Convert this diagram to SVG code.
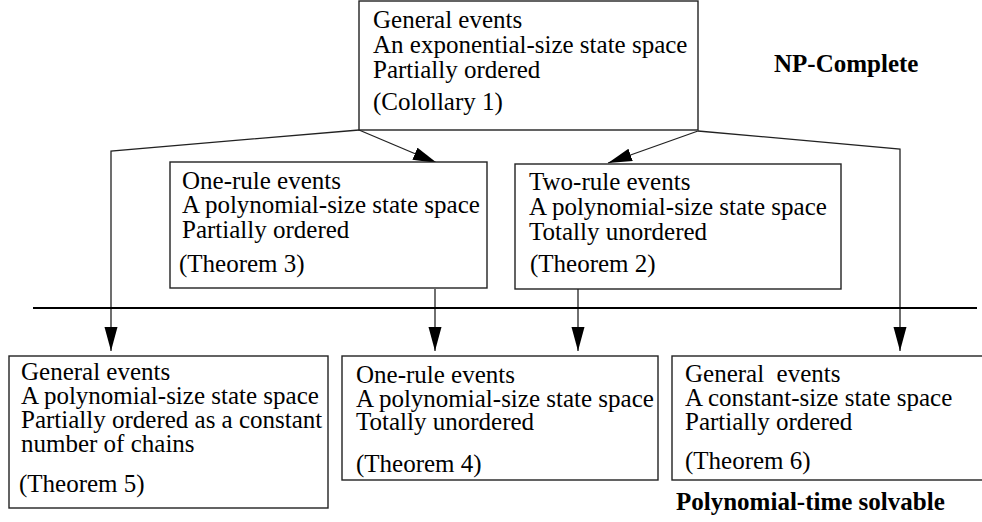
<svg xmlns="http://www.w3.org/2000/svg" width="982" height="522" viewBox="0 0 982 522">
<style>
  .box { fill: #fff; stroke: #222; stroke-width: 1.4; }
  .t { font-family: "Liberation Serif", "Times New Roman", serif; font-size: 25px; fill: #000; }
  .b { font-family: "Liberation Serif", "Times New Roman", serif; font-size: 25px; font-weight: bold; fill: #000; }
  .conn { fill: none; stroke: #222; stroke-width: 1.3; }
  .rule { fill: none; stroke: #000; stroke-width: 2; }
</style>
<defs>
  <marker id="arr" markerUnits="userSpaceOnUse" markerWidth="26" markerHeight="14" refX="24" refY="6.5" orient="auto">
    <path d="M0,0 L24,6.5 L0,13 z" fill="#000"/>
  </marker>
</defs>
<rect width="982" height="522" fill="#fff"/>

<g id="connectors">
  <path class="conn" d="M359,130 L111,151 L111,351" marker-end="url(#arr)"/>
  <path class="conn" d="M698,131 L900,149 L900,351" marker-end="url(#arr)"/>
  <path class="conn" d="M359,130 L437,163" marker-end="url(#arr)"/>
  <path class="conn" d="M698,131 L608,163" marker-end="url(#arr)"/>
  <path class="conn" d="M435,289 L435,351" marker-end="url(#arr)"/>
  <path class="conn" d="M578,289 L578,351" marker-end="url(#arr)"/>
</g>

<line id="divider" class="rule" x1="33" y1="308" x2="977" y2="308"/>

<g id="top">
  <rect class="box" x="359" y="1" width="339" height="129"/>
  <text class="t"><tspan x="373" y="28">General events</tspan><tspan x="373" y="53">An exponential-size state space</tspan><tspan x="373" y="78">Partially ordered</tspan><tspan x="373" y="110">(Colollary 1)</tspan></text>
</g>

<g id="one-rule-np">
  <rect class="box" x="170" y="162" width="317" height="126"/>
  <text class="t"><tspan x="182" y="189">One-rule events</tspan><tspan x="182" y="213">A polynomial-size state space</tspan><tspan x="182" y="238">Partially ordered</tspan><tspan x="179" y="272">(Theorem 3)</tspan></text>
</g>

<g id="two-rule-np">
  <rect class="box" x="515" y="164" width="326" height="125"/>
  <text class="t"><tspan x="529" y="190">Two-rule events</tspan><tspan x="529" y="215">A polynomial-size state space</tspan><tspan x="529" y="240">Totally unordered</tspan><tspan x="530" y="272">(Theorem 2)</tspan></text>
</g>

<g id="general-poly">
  <rect class="box" x="9" y="356" width="319" height="152"/>
  <text class="t"><tspan x="21" y="380">General events</tspan><tspan x="21" y="404">A polynomial-size state space</tspan><tspan x="21" y="428">Partially ordered as a constant</tspan><tspan x="21" y="452">number of chains</tspan><tspan x="19" y="492">(Theorem 5)</tspan></text>
</g>

<g id="one-rule-poly">
  <rect class="box" x="342" y="356" width="316" height="124"/>
  <text class="t"><tspan x="356" y="383">One-rule events</tspan><tspan x="356" y="407">A polynomial-size state space</tspan><tspan x="356" y="430">Totally unordered</tspan><tspan x="356" y="472">(Theorem 4)</tspan></text>
</g>

<g id="general-const">
  <rect class="box" x="672" y="356" width="320" height="124"/>
  <text class="t" xml:space="preserve"><tspan x="685" y="382">General  events</tspan><tspan x="685" y="406">A constant-size state space</tspan><tspan x="685" y="430">Partially ordered</tspan><tspan x="685" y="469">(Theorem 6)</tspan></text>
</g>

<text id="np-label" class="b" x="774" y="72">NP-Complete</text>
<text id="poly-label" class="b" x="676" y="510">Polynomial-time solvable</text>
</svg>
